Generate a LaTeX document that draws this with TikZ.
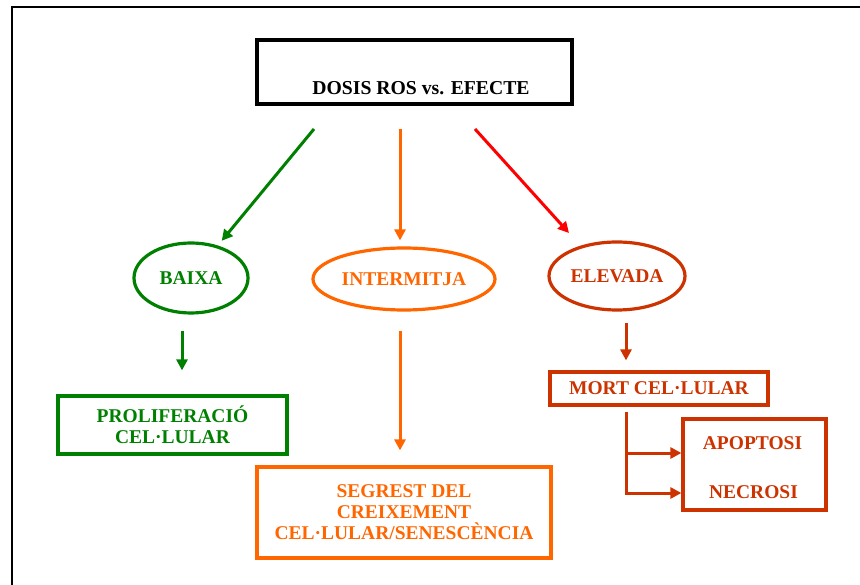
\documentclass[tikz,border=0pt]{standalone}
\usepackage{fontspec}
\setmainfont{Liberation Serif}
\usetikzlibrary{arrows.meta,shapes.geometric}
\definecolor{cgreen}{HTML}{008000}
\definecolor{corange}{HTML}{FF6600}
\definecolor{cred}{HTML}{FF0000}
\definecolor{cdark}{HTML}{CC3300}
\begin{document}
\begin{tikzpicture}[x=1pt,y=-1pt,
  txt/.style={font=\fontsize{19.5}{21}\selectfont\bfseries, align=center, inner sep=0pt},
  ell/.style={ellipse, draw, line width=3.2pt, inner sep=0pt},
  box/.style={rectangle, draw, line width=3.2pt, inner sep=0pt},
  arr/.style={line width=3pt, -{Triangle[length=11pt,width=11pt]}}]
\useasboundingbox (0,0) rectangle (860,585);
% frame
\draw[line width=1.8pt] (860,7) -- (12,7) -- (12,585);
% title
\node[box, draw=black, line width=3.8pt, minimum width=315pt, minimum height=64pt] (title) at (414.5,72) {};
\node[txt, font=\fontsize{19.7}{21}\selectfont\bfseries] (titletext) at (421,88) {DOSIS ROS vs. EFECTE};
% ellipses
\node[ell, draw=cgreen, text=cgreen, minimum width=114pt, minimum height=70pt, font=\fontsize{19.5}{21}\selectfont\bfseries] (baixa) at (191,278) {BAIXA};
\node[ell, draw=corange, text=corange, minimum width=182pt, minimum height=62pt, font=\fontsize{19.5}{21}\selectfont\bfseries] (intermitja) at (404,279) {INTERMITJA};
\node[ell, draw=cdark, text=cdark, minimum width=136pt, minimum height=68pt, font=\fontsize{19.5}{21}\selectfont\bfseries] (elevada) at (617,276) {ELEVADA};
% boxes
\node[box, draw=cgreen, text=cgreen, minimum width=229pt, minimum height=58pt, txt] (prolif) at (172.5,425) {PROLIFERACIÓ\\CEL·LULAR};
\node[box, draw=corange, text=corange, minimum width=294pt, minimum height=91pt, txt] (segrest) at (404,512.5) {SEGREST DEL\\CREIXEMENT\\CEL·LULAR/SENESCÈNCIA};
\node[box, draw=cdark, text=cdark, minimum width=218pt, minimum height=33pt, txt] (mort) at (659,388.5) {MORT CEL·LULAR};
\node[box, draw=cdark, minimum width=143pt, minimum height=91pt] (apnec) at (754.5,464.5) {};
\node[txt, text=cdark] (apop) at (752.5,443) {APOPTOSI};
\node[txt, text=cdark] (necr) at (753.5,492) {NECROSI};
% top arrows
\coordinate (s1) at (314,129);
\coordinate (s2) at (400,129);
\coordinate (s3) at (475,129);
\coordinate (e3) at (569,233);
\draw[arr, draw=cgreen, fill=cgreen, shorten >=6pt] (s1) -- (baixa);
\draw[arr, draw=corange, fill=corange, shorten >=6pt] (s2) -- (s2 |- intermitja.north);
\draw[arr, draw=cred, fill=cred] (s3) -- (e3);
% lower arrows
\coordinate (g1) at (182,331);
\draw[arr, draw=cgreen, fill=cgreen, shorten >=24pt] (g1) -- (g1 |- prolif.north);
\coordinate (o1) at (400,331);
\draw[arr, draw=corange, fill=corange, shorten >=15pt] (o1) -- (o1 |- segrest.north);
\coordinate (r1) at (626,323);
\draw[arr, draw=cdark, fill=cdark, shorten >=10pt] (r1) -- (r1 |- mort.north);
% branches
\coordinate (m1) at (626,412);
\coordinate (b1) at (apnec.west |- 0,453);
\coordinate (b2) at (apnec.west |- 0,493);
\draw[line width=3pt, draw=cdark] (m1) -- (m1 |- b2);
\draw[arr, draw=cdark, fill=cdark] (m1 |- b1) -- (b1);
\draw[arr, draw=cdark, fill=cdark, line cap=rect] (m1 |- b2) -- (b2);
\end{tikzpicture}
\end{document}
